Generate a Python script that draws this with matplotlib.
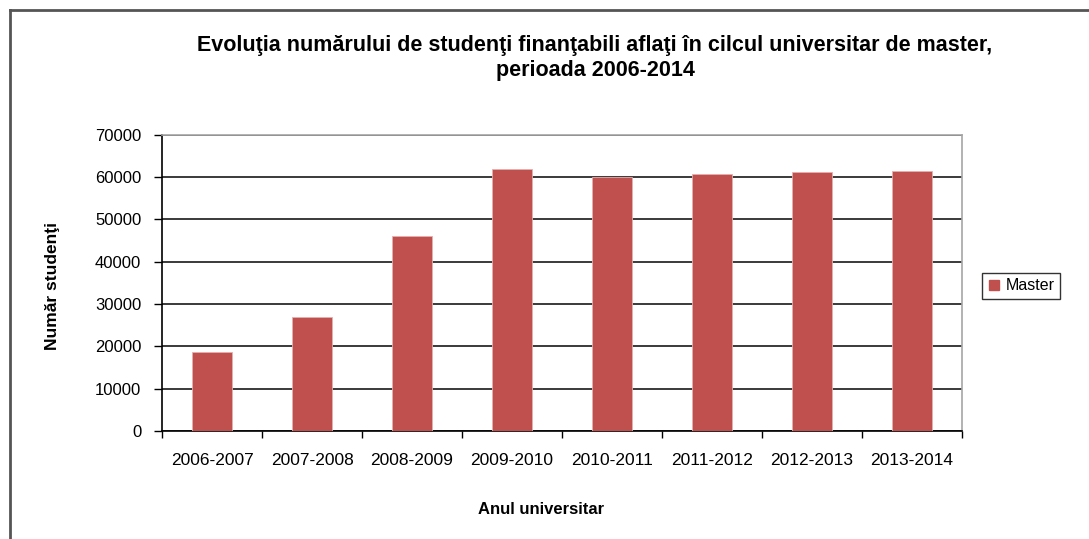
import matplotlib
matplotlib.use("Agg")
import matplotlib.pyplot as plt
from matplotlib.lines import Line2D

categories = ["2006-2007", "2007-2008", "2008-2009", "2009-2010",
              "2010-2011", "2011-2012", "2012-2013", "2013-2014"]
master = [18600, 26900, 46100, 62000, 60100, 60800, 61100, 61400]
yticks = [0, 10000, 20000, 30000, 40000, 50000, 60000, 70000]

title = "Evoluţia numărului de studenţi finanţabili aflaţi în cilcul universitar de master,\nperioada 2006-2014"
ylabel = "Număr studenţi"
xlabel = "Anul universitar"
series_name = "Master"

plt.rcParams['font.family'] = ['Liberation Sans', 'DejaVu Sans']

fig = plt.figure(figsize=(10.89, 5.39), dpi=100)
ax = fig.add_axes([162/1089, 1-431/539, 800/1089, (431-134.7)/539])

x = list(range(len(categories)))
ax.bar(x, master, width=0.4, color="#C0504D", edgecolor="#E6B0AF",
       linewidth=0.6, zorder=3, label=series_name)

ax.set_xlim(-0.5, len(categories) - 0.5)
ax.set_ylim(0, 70000)
ax.set_yticks(yticks)
ax.set_yticklabels([str(v) for v in yticks])
ax.set_xticks(x)
ax.set_xticklabels(categories)
ax.set_xticks([i - 0.5 for i in range(len(categories) + 1)], minor=True)
ax.tick_params(axis='x', which='major', length=0, pad=16, labelsize=12.5)
ax.tick_params(axis='x', which='minor', length=5, width=1, direction='out', color='black')
ax.tick_params(axis='y', length=6, width=1, direction='out', pad=9, labelsize=12)

ax.yaxis.grid(True, color="#2b2b2b", linewidth=1.3, zorder=1)
ax.set_axisbelow(True)

for s in ['left', 'bottom']:
    ax.spines[s].set_color('black')
    ax.spines[s].set_linewidth(1.2)
for s in ['top', 'right']:
    ax.spines[s].set_color('#A6A6A6')
    ax.spines[s].set_linewidth(1.2)

fig.text(595/1089, 1-58/539, title, ha='center', va='center',
         fontsize=15.5, fontweight='bold', linespacing=1.2)
fig.text(52/1089, 1-286/539, ylabel, ha='center', va='center', rotation=90,
         fontsize=12.5, fontweight='bold')
fig.text(541/1089, 1-510/539, xlabel, ha='center', va='center',
         fontsize=12, fontweight='bold')

handle = Line2D([], [], marker='s', color='none', markerfacecolor="#C0504D",
                markeredgecolor="#C0504D", markersize=7, linestyle='none')
leg = fig.legend([handle], [series_name], loc='center',
                 bbox_to_anchor=(1021/1089, 1-286/539), frameon=True,
                 fancybox=False, fontsize=11.5, handlelength=0.8,
                 handletextpad=0.3, borderpad=0.35, borderaxespad=0)
leg.get_frame().set_edgecolor('black')
leg.get_frame().set_linewidth(1.0)

# outer frame (chart border, cut off at right and bottom)
fig.add_artist(Line2D([10/1089, 10/1089], [0, 1-10/539], transform=fig.transFigure,
                      color='#555555', linewidth=2))
fig.add_artist(Line2D([10/1089, 1], [1-10/539, 1-10/539], transform=fig.transFigure,
                      color='#555555', linewidth=2))

fig.savefig("out.png", dpi=100)
